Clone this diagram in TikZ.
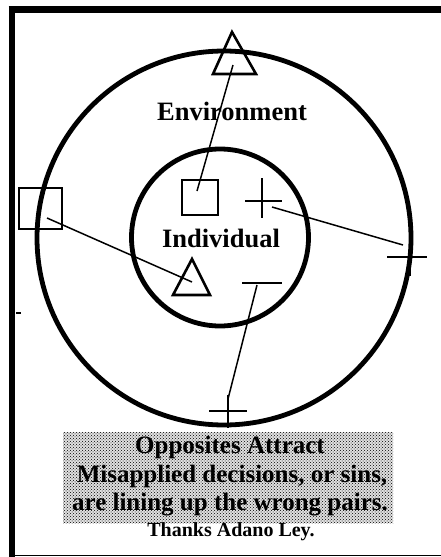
\documentclass[tikz,border=0pt]{standalone}
\usepackage{fontspec}
\setmainfont{Liberation Serif}
\usetikzlibrary{patterns}
\begin{document}
\begin{tikzpicture}[x=1pt,y=-1pt,line cap=butt,
  ring/.style={line width=4.8pt},
  sign/.style={line width=2.6pt},
  link/.style={line width=1.5pt},
  label/.style={font=\bfseries\fontsize{26.5}{30}\selectfont,anchor=base,inner sep=0pt},
  caption/.style={font=\bfseries\fontsize{25}{28}\selectfont,anchor=base,inner sep=0pt}]
  \useasboundingbox (0,0) rectangle (441,557);
  % frame
  \draw[line width=6pt] (11.5,6) -- (11.5,557);
  \draw[line width=7pt] (8.5,9.5) -- (441,9.5);
  \draw[line width=1.5pt] (11,555.5) -- (441,555.5);
  \draw[line width=2pt] (16,313) -- (21,313);
  % rings
  \draw[ring] (224,238) circle (187);
  \draw[ring] (220,237.5) circle (88.5);
  % symbols
  \draw[sign,line join=miter] (232,32) -- (213,74) -- (256,74) -- cycle;
  \draw[sign] (182,180) rectangle (218,215);
  \draw[sign] (262,178) -- (262,218) (245,201) -- (282,201);
  \draw[sign] (19,188) rectangle (62,229);
  \draw[sign,line join=miter] (192,259) -- (173,295) -- (210,295) -- cycle;
  \draw[sign] (242,283) -- (282,283);
  \draw[sign] (387,257) -- (427,257) (410,238) -- (410,276);
  \draw[sign] (209,411) -- (247,411) (228,395) -- (228,428);
  % pair ends
  \coordinate (envTri) at (233,65);
  \coordinate (indSq) at (197,191);
  \coordinate (indPlus) at (272,207);
  \coordinate (envPlus) at (403,245);
  \coordinate (envSq) at (47,218);
  \coordinate (indTri) at (192,282);
  \coordinate (indMinus) at (257,285);
  \coordinate (envMinus) at (228,399);
  \draw[link] (envTri) -- (indSq);
  \draw[link] (indPlus) -- (envPlus);
  \draw[link] (envSq) -- (indTri);
  \draw[link] (indMinus) -- (envMinus);
  % labels
  \node[label] (env) at (232,120) {Environment};
  \node[label] (ind) at (221,247) {Individual};
  % caption
  \fill[black!12] (63,432) rectangle (393,523);
  \fill[pattern=crosshatch dots,pattern color=black] (63,432) rectangle (393,523);
  \node[caption] (cap1) at (230,453) {Opposites Attract};
  \node[caption] (cap2) at (232,482) {Misapplied decisions, or sins,};
  \node[caption] (cap3) at (230,510) {are lining up the wrong pairs.};
  \node[caption,font=\bfseries\fontsize{20}{24}\selectfont] (thanks) at (231,536) {Thanks Adano Ley.};
\end{tikzpicture}
\end{document}
